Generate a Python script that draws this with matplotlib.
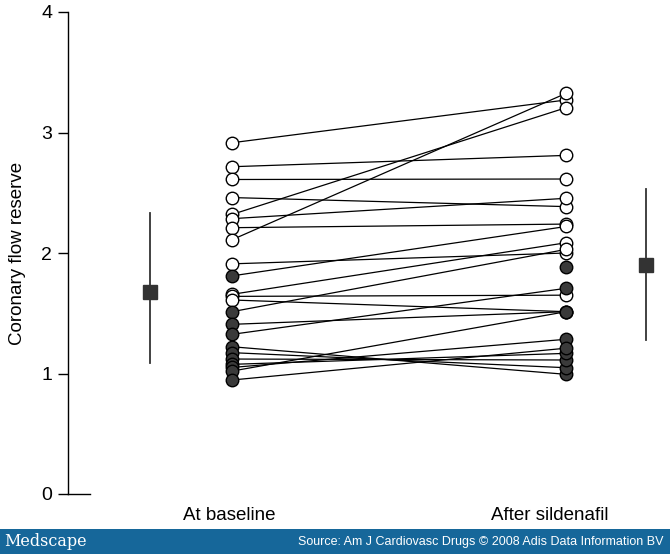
import numpy as np
import matplotlib
matplotlib.use("Agg")
import matplotlib.pyplot as plt
from matplotlib.patches import Rectangle

plt.rcParams['font.family'] = ['Liberation Sans', 'DejaVu Sans']

categories = ["At baseline", "After sildenafil"]
yticks = [0, 1, 2, 3, 4]
ylabel = "Coronary flow reserve"

# paired patient values (baseline, after sildenafil); NaN = no value
baseline = [2.915, 2.716, 2.61, 2.46, 2.32, 2.285, 2.21, 2.11, 1.91, 1.81,
            1.657, 1.64, 1.61, 1.513, 1.408, 1.325,
            1.222, 1.173, 1.12, 1.076, 1.05, 1.02, 0.946, np.nan]
after = [3.27, 2.81, 2.614, 2.385, 3.206, 2.454, 2.24, 3.325, 2.0, 2.22,
         2.085, 1.65, 1.513, 2.03, 1.513, 1.707,
         0.993, 1.048, 1.112, 1.167, 1.284, 1.513, 1.21, 1.887]
baseline_filled = [False, False, False, False, False, False, False, False, False, True,
                   False, False, False, True, True, True,
                   True, True, True, True, True, True, True, True]
after_filled = [False, False, False, False, False, False, False, False, False, False,
                False, False, True, False, True, True,
                True, True, True, True, True, True, True, True]

# mean and SD bars
mean_vals = [1.675, 1.90]
sd_low = [1.09, 1.28]
sd_high = [2.33, 2.53]

W, H = 670, 554
fig = plt.figure(figsize=(W / 100, H / 100), dpi=100)
ax = fig.add_axes([68 / W, 1 - 494 / H, (670 - 68) / W, (494 - 12) / H])

xb, xa = 1.0, 2.0
xmean = [0.754, 2.24]
ax.set_xlim(0.509, 2.311)
ax.set_ylim(0, 4)

fill_col = '#3a3a3a'
for b, a in zip(baseline, after):
    if not (np.isnan(b) or np.isnan(a)):
        ax.plot([xb, xa], [b, a], color='black', lw=0.9, zorder=2)

ms = 9.0
for vals, flags, x in [(baseline, baseline_filled, xb), (after, after_filled, xa)]:
    for v, f in zip(vals, flags):
        if np.isnan(v):
            continue
        ax.plot([x], [v], marker='o', ms=ms, mec='black', mew=1.0,
                mfc=fill_col if f else 'white', zorder=3, linestyle='none')

for x, m, lo, hi in zip(xmean, mean_vals, sd_low, sd_high):
    ax.plot([x, x], [lo, hi], color='#333333', lw=1.3, zorder=2)
    ax.plot([x], [m], marker='s', ms=9.5, color='#333333', zorder=3, linestyle='none')

for s in ['top', 'right', 'bottom']:
    ax.spines[s].set_visible(False)
ax.spines['left'].set_linewidth(1.0)
ax.set_yticks(yticks)
ax.set_yticklabels([str(t) for t in yticks], fontsize=14)
ax.tick_params(axis='y', direction='out', length=7.5, width=1.0, pad=4)
ax.set_xticks([])
ax.set_ylabel(ylabel, fontsize=13.5, labelpad=11)

# small stub at zero
ax.plot([0.509, 0.575], [0, 0], color='black', lw=1.0, clip_on=False)

fig.text(229 / W, 1 - 516 / H, categories[0], ha='center', va='center', fontsize=13.5)
fig.text(550 / W, 1 - 516 / H, categories[1], ha='center', va='center', fontsize=13.5)

# banner
fig.patches.append(Rectangle((0, 0), 1, 25 / H, transform=fig.transFigure,
                             facecolor='#16679a', edgecolor='none', zorder=0))
fig.text(4 / W, 12.5 / H, "Medscape", ha='left', va='center', fontsize=11.5,
         color='white', family='DejaVu Serif')
fig.text(664 / W, 12.5 / H, "Source: Am J Cardiovasc Drugs \u00a9 2008 Adis Data Information BV",
         ha='right', va='center', fontsize=9, color='white')

fig.savefig("out.png", dpi=100)
